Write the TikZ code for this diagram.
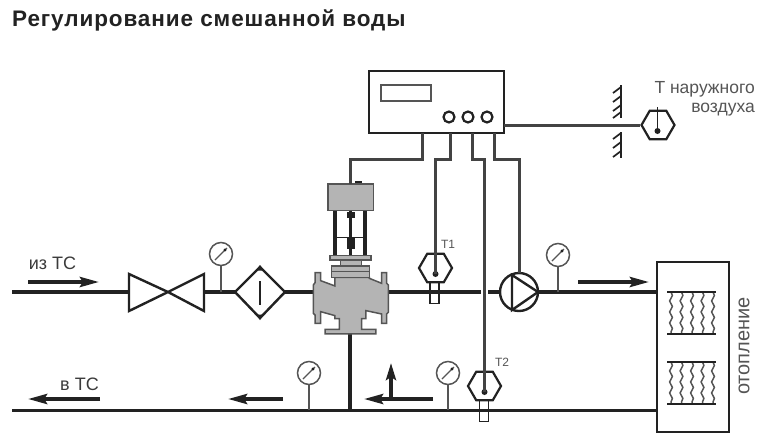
\documentclass[tikz,border=0pt]{standalone}
\usepackage{fontspec}
\setmainfont{Liberation Sans}
\newfontfamily\titlefont[LetterSpace=4]{Liberation Sans}
\usetikzlibrary{arrows.meta,shapes.geometric,decorations.pathmorphing}
\definecolor{ink}{HTML}{222222}
\definecolor{mid}{HTML}{555555}
\definecolor{body}{HTML}{B4B4B4}
\tikzset{
  pipe/.style={line width=3.8pt,draw=ink},
  wire/.style={line width=2.1pt,draw=ink!85!white,line join=miter},
  stem/.style={line width=1.5pt,draw=mid},
  flow/.style={line width=3.8pt,draw=ink,-{Stealth[length=19pt,width=10pt,inset=3pt]}},
  flowup/.style={line width=3.4pt,draw=ink,-{Stealth[length=17pt,width=10pt,inset=3pt]}},
  equip/.style={line width=2.4pt,draw=ink},
  solid body/.style={line width=1.5pt,draw=mid,fill=body},
  hexa/.style={regular polygon,regular polygon sides=6,minimum size=33pt,inner sep=0pt,draw=ink,line width=2.2pt,fill=white},
  dial/.style={circle,minimum size=23pt,inner sep=0pt,draw=mid,line width=1.5pt,fill=white},
  knob/.style={circle,minimum size=11pt,inner sep=0pt,draw=ink,line width=2.2pt,fill=white},
  well/.style={draw=ink,line width=1.5pt,fill=white,minimum width=9pt,minimum height=21pt,inner sep=0pt},
  label/.style={text=mid,inner sep=0pt,font=\fontsize{17.5}{19}\selectfont},
  tag/.style={text=mid,inner sep=0pt,font=\fontsize{12}{14}\selectfont},
  flowtext/.style={text=mid!70!black,inner sep=0pt,font=\fontsize{18}{20}\selectfont},
  coil/.style={draw=mid,line width=1.5pt,decorate,decoration={snake,segment length=11pt,amplitude=1.4pt}},
  bar/.style={line width=2.2pt,draw=ink},
  hatch/.style={line width=1.7pt,draw=ink}
}
\newcommand{\gaugeat}[4]{%
  \node[dial] (#1) at (#2,#3) {};
  \coordinate (#1p) at (#2,#4);
  \draw[stem] (#1.south) -- (#1p);
  \draw[line width=1.1pt,draw=mid] (#1.center) ++(-6,6) -- ++(12,-12);
  \fill[ink] (#1.center) ++(4,-4) circle (1.7);
}
\newcommand{\coilset}[3]{%
  \coordinate (#1a) at (667,#2); \coordinate (#1b) at (716,#2);
  \coordinate (#1c) at (667,#3); \coordinate (#1d) at (716,#3);
  \foreach \cx in {671,681.5,692,702.5,713}{\draw[coil] (\cx,#2) -- (\cx,#3);}
  \draw[bar] (#1a) -- (#1b);
  \draw[bar] (#1c) -- (#1d);
}
\begin{document}
\begin{tikzpicture}[x=1pt,y=-1pt]
\useasboundingbox (0,0) rectangle (763,440);
\fill[white] (0,0) rectangle (763,440);

\node[anchor=west,inner sep=0pt,text=ink,font=\fontsize{22.5}{24}\titlefont\bfseries] (title) at (12,20.5) {Регулирование смешанной воды};

% pipes
\coordinate (inL) at (12,292);
\coordinate (vL) at (129,292);
\coordinate (vC) at (168,292);
\coordinate (vR) at (204,292);
\coordinate (fL) at (235,292);
\coordinate (fR) at (285,292);
\coordinate (fT) at (260,267);
\coordinate (fB) at (260,318);
\coordinate (bL) at (315,292);
\coordinate (bR) at (388,292);
\coordinate (gapL) at (481,292);
\coordinate (gapR) at (488,292);
\coordinate (radT) at (657,292);
\coordinate (retL) at (12,410.5);
\coordinate (retR) at (657,410.5);
\coordinate (tee) at (350,410.5);
\coordinate (bBot) at (350,334);

\node[well] (w1) at (434.5,293) {};
\node[well] (w2) at (484,411) {};
\node[circle,minimum size=38pt,inner sep=0pt,draw=ink,line width=2.4pt,fill=white] (pump) at (519,292) {};

\draw[pipe] (inL) -- (vL);
\draw[pipe] (vR) -- (fL);
\draw[pipe] (fR) -- (bL);
\draw[pipe] (bR) -- (gapL);
\draw[pipe] (gapR) -- (pump.west);
\draw[pipe] (pump.east) -- (radT);
\draw[pipe] (retL) -- (retR);
\draw[pipe] (bBot) -- (tee);

% shutoff valve
\draw[equip,line join=miter] (vC) -- (129,274) -- (129,311) -- (vC) -- (204,274) -- (204,311) -- cycle;

% filter
\draw[equip,fill=white] (fL) -- (fT) -- (fR) -- (fB) -- cycle;
\draw[equip] (260,281) -- (260,305);
\fill[ink] (256,270.5) -- (260,265) -- (264,270.5) -- cycle;
\fill[ink] (256,314.5) -- (260,320) -- (264,314.5) -- cycle;

% control valve (traced in a 3x local frame)
\begin{scope}[shift={(290,150)},x=0.3333pt,y=-0.3333pt]
  \draw[line width=3.2pt,draw=ink] (135,182) -- (135,316);
  \draw[line width=3.2pt,draw=ink] (225,182) -- (225,316);
  \draw[line width=3.2pt,draw=ink] (182,182) -- (182,316);
  \draw[line width=1.6pt,draw=ink] (135,262) -- (225,262);
  \fill[ink] (170,185) rectangle (195,205);
  \fill[ink] (170,265) rectangle (195,296);
  \fill[ink] (195,92) rectangle (215,103);
  \draw[solid body] (114,102) rectangle (250,182);
  \draw[solid body] (152,330) rectangle (215,350);
  \draw[solid body] (120,316) rectangle (243,330);
  \draw[solid body] (135,382) -- (135,408) -- (92,392) -- (92,368) -- (75,368) -- (75,398) -- (70,405) -- (70,490) -- (75,495) -- (75,520) -- (92,520) -- (92,485) -- (135,497) -- (135,506) -- (148,506) -- (148,538) -- (105,538) -- (105,552) -- (258,552) -- (258,538) -- (215,538) -- (215,506) -- (228,506) -- (228,482) -- (275,492) -- (275,520) -- (290,520) -- (290,492) -- (295,487) -- (295,405) -- (290,400) -- (290,368) -- (275,368) -- (275,400) -- (238,385) -- (238,382) -- cycle;
  \draw[solid body] (125,348) rectangle (238,382);
  \draw[line width=1.3pt,draw=mid] (125,365) -- (238,365);
\end{scope}

% controller
\node[draw=ink,line width=2.4pt,fill=white,minimum width=135pt,minimum height=62pt,inner sep=0pt] (ctrl) at (436.5,102) {};
\node[draw=mid,line width=2.4pt,minimum width=50pt,minimum height=16pt,inner sep=0pt] (disp) at (406,93) {};
\node[knob] (k1) at (449,117) {};
\node[knob] (k2) at (468,117) {};
\node[knob] (k3) at (487,117) {};

% thermometers
\node[hexa] (t1) at (435.5,268) {};
\node[hexa] (t2) at (484.5,386) {};
\node[hexa] (t3) at (658,125) {};
\fill[ink] (435.5,274) circle (3);
\fill[ink] (484.5,392) circle (3);
\fill[ink] (657.5,131) circle (3);
\coordinate (t3top) at (657.5,107);
\draw[line width=1.8pt,draw=ink] (t3top) -- (657.5,131);
\node[tag] (t1l) at (448,244) {Т1};
\node[tag] (t2l) at (502,362) {Т2};

% wires
\coordinate (c1) at (350.5,159.5);
\coordinate (c2) at (422.5,159.5);
\coordinate (cb1) at (422.5,133);
\coordinate (ca) at (350.5,184);
\draw[wire] (cb1) -- (c2) -- (c1) -- (ca);
\coordinate (cb2) at (450.5,133);
\draw[wire] (cb2) -- (450.5,159.5) -- (435.5,159.5) -- (435.5,274);
\coordinate (cb3) at (472.5,133);
\draw[wire] (cb3) -- (472.5,159.5) -- (484.5,159.5) -- (484.5,392);
\coordinate (cb4) at (494.5,133);
\draw[wire] (cb4) -- (494.5,159.5) -- (519.5,159.5) -- (519.5,273);
\coordinate (ctrlE) at (504,125.5);
\draw[wire] (ctrlE) -- (t3.west |- ctrlE);

% pump triangle
\draw[equip,line join=miter] (512,275) -- (538,292) -- (512,310) -- cycle;

% walls
\draw[line width=2.6pt,draw=ink] (621,85) -- (621,118);
\draw[line width=2.6pt,draw=ink] (621,132) -- (621,158);
\foreach \wy in {93,102,111,118}{\draw[hatch] (621,\wy-6) -- (613,\wy);}
\foreach \wy in {139,148,157}{\draw[hatch] (621,\wy-6) -- (613,\wy);}

% gauges
\gaugeat{g1}{221}{254}{292}
\gaugeat{g2}{558}{255}{292}
\gaugeat{g3}{309}{373}{410}
\gaugeat{g4}{448}{373}{410}

% flow arrows
\coordinate (a1s) at (28,282); \coordinate (a1e) at (99,282);
\draw[flow] (a1s) -- (a1e);
\coordinate (a2s) at (578,282); \coordinate (a2e) at (649,282);
\draw[flow] (a2s) -- (a2e);
\coordinate (a3s) at (100,399); \coordinate (a3e) at (28,399);
\draw[flow] (a3s) -- (a3e);
\coordinate (a4s) at (283,399); \coordinate (a4e) at (228,399);
\draw[flow] (a4s) -- (a4e);
\coordinate (a5s) at (433,399); \coordinate (a5e) at (364,399);
\draw[flow] (a5s) -- (a5e);
\coordinate (a6s) at (391,399); \coordinate (a6e) at (391,363);
\draw[flowup] (a6s) -- (a6e);

\node[flowtext] (inT) at (52.5,263) {из ТС};
\node[flowtext] (outT) at (79.5,384) {в ТС};

% radiator
\draw[line width=2.2pt,draw=ink] (657,432) -- (657,262) -- (729,262) -- (729,432) -- cycle;
\coilset{r}{292}{334}
\coilset{s}{362}{404}
\node[label,rotate=90,font=\fontsize{20}{22}\selectfont] (heat) at (744,346) {отопление};

\node[label,anchor=base east] (out1) at (755,93) {Т наружного};
\node[label,anchor=base east] (out2) at (755,112) {воздуха};
\end{tikzpicture}
\end{document}
